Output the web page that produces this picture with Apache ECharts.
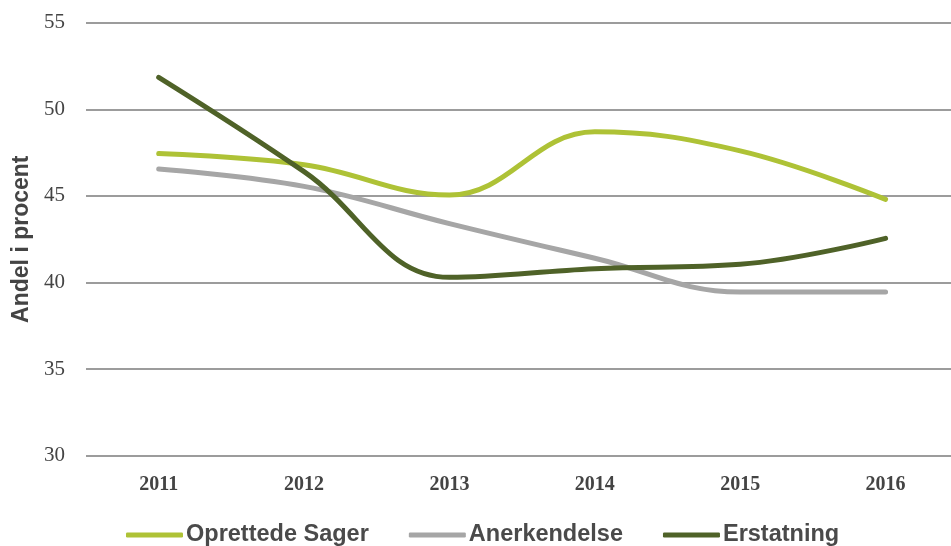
<!DOCTYPE html>
<html>
<head>
<meta charset="utf-8">
<script src="https://cdn.jsdelivr.net/npm/echarts@6/dist/echarts.min.js"></script>
<style>
  html, body { margin: 0; padding: 0; background: #fff; }
  #chart { width: 951px; height: 546px; }
</style>
</head>
<body>
<div id="chart"></div>
<script>
// data
const years = [2011, 2012, 2013, 2014, 2015, 2016]
const oprettedeSager = [47.45, 46.8, 45.05, 48.7, 47.6, 44.8]
const anerkendelse = [46.55, 45.55, 43.4, 41.4, 39.45, 39.45]
const erstatning = [51.85, 46.4, 40.3, 40.8, 41.05, 42.55]
const legendNames = ['Oprettede Sager', 'Anerkendelse', 'Erstatning']

const serifFont = '"Liberation Serif", "DejaVu Serif", serif'
const sansFont = '"Liberation Sans", Arial, sans-serif'

const chart = echarts.init(document.getElementById('chart'))

// x is a value axis so the plot can run past the right edge like the original
function lineSeries(name, values, color) {
  return {
    name,
    type: 'line',
    data: years.map((y, i) => [y, values[i]]),
    smooth: 0.4,
    symbol: 'none',
    lineStyle: { color, width: 5, cap: 'round' },
    itemStyle: { color }
  }
}

chart.setOption({
  animation: false,
  backgroundColor: '#fff',
  grid: { left: 86, right: 0, top: 22.7, bottom: 90.3 },
  legend: {
    top: 518,
    left: 121,
    icon: 'roundRect',
    itemWidth: 57,
    itemHeight: 5,
    itemGap: 40,
    textStyle: { fontFamily: sansFont, fontWeight: 'bold', fontSize: 23.5, color: '#4a4a4a', padding: [0, 0, 0, -2] },
    data: legendNames
  },
  xAxis: {
    type: 'value',
    min: 2010.5,
    max: 2016.45,
    splitLine: { show: false },
    axisLine: { show: false },
    axisTick: { show: false },
    axisLabel: {
      customValues: years,
      fontFamily: serifFont, fontWeight: 'bold', fontSize: 20, color: '#444', margin: 19,
      formatter: v => String(v)
    }
  },
  yAxis: {
    type: 'value',
    min: 30,
    max: 55,
    interval: 5,
    name: 'Andel i procent',
    nameLocation: 'middle',
    nameGap: 52,
    nameRotate: 90,
    nameTextStyle: { fontFamily: sansFont, fontWeight: 'bold', fontSize: 23, color: '#444' },
    axisLine: { show: false },
    axisTick: { show: false },
    axisLabel: { fontFamily: serifFont, fontSize: 21, color: '#444', margin: 21 },
    splitLine: { lineStyle: { color: '#9c9c9c', width: 2 } }
  },
  series: [
    lineSeries(legendNames[0], oprettedeSager, '#aec236'),
    lineSeries(legendNames[1], anerkendelse, '#a6a6a6'),
    lineSeries(legendNames[2], erstatning, '#4f6228')
  ]
})
</script>
</body>
</html>
